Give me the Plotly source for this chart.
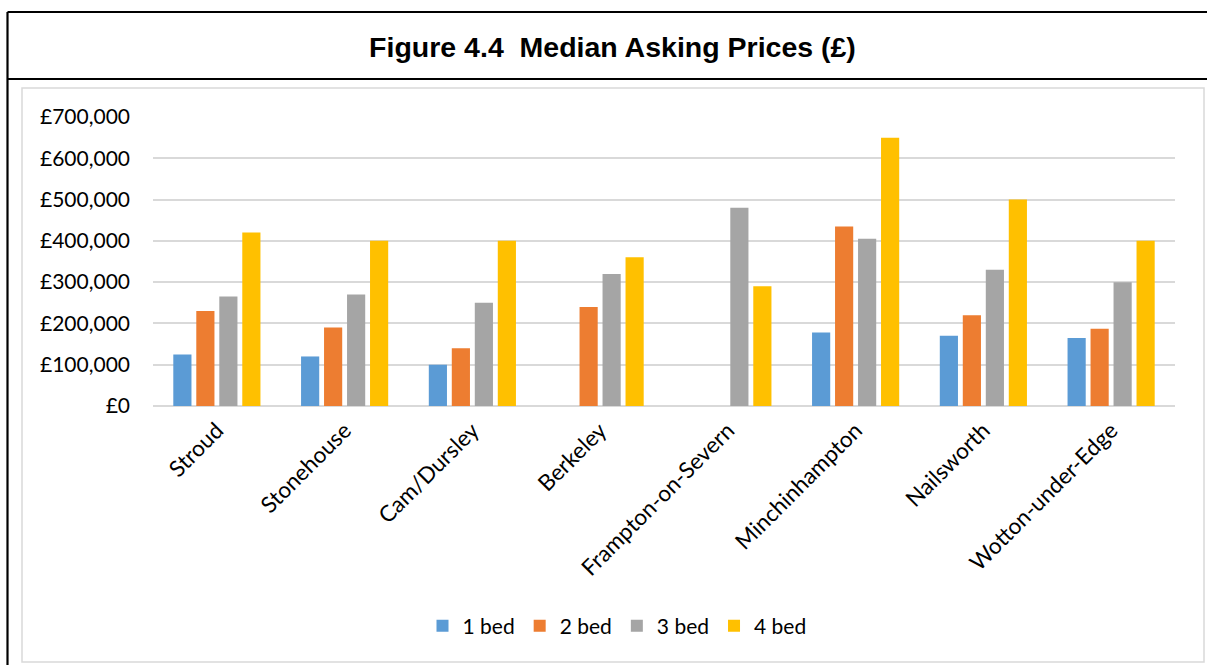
import plotly.graph_objects as go

# Median asking prices by settlement and bedroom count
towns = ["Stroud", "Stonehouse", "Cam/Dursley", "Berkeley",
         "Frampton-on-Severn", "Minchinhampton", "Nailsworth", "Wotton-under-Edge"]
bed_1 = [125000, 120000, 100000, None, None, 178000, 170000, 165000]
bed_2 = [230000, 190000, 140000, 240000, None, 435000, 220000, 187000]
bed_3 = [265000, 270000, 250000, 320000, 480000, 405000, 330000, 300000]
bed_4 = [420000, 400000, 400000, 360000, 290000, 650000, 500000, 400000]

series_names = ["1 bed", "2 bed", "3 bed", "4 bed"]
series_colors = ["#5b9bd5", "#ed7d31", "#a5a5a5", "#ffc000"]
y_ticks = [0, 100000, 200000, 300000, 400000, 500000, 600000, 700000]
y_tick_text = ["£" + f"{v:,}" for v in y_ticks]

W, H = 1207, 665
L, R, T, B = 153, 1175, 117, 406  # plot area in pixels

fig = go.Figure()
for name, vals, col in zip(series_names, [bed_1, bed_2, bed_3, bed_4], series_colors):
    fig.add_trace(go.Bar(x=towns, y=vals, name=name, marker_color=col,
                         marker_line_width=0))


def px(x):
    return (x - L) / (R - L)


def py(y):
    return (B - y) / (B - T)


shapes = [
    # outer frame (left + top) and title divider
    dict(type="line", xref="paper", yref="paper", x0=px(7.5), x1=px(1210),
         y0=py(12), y1=py(12), line=dict(color="black", width=2.2)),
    dict(type="line", xref="paper", yref="paper", x0=px(7.5), x1=px(7.5),
         y0=py(12), y1=py(670), line=dict(color="black", width=2.2)),
    dict(type="line", xref="paper", yref="paper", x0=px(7.5), x1=px(1210),
         y0=py(79), y1=py(79), line=dict(color="black", width=2.2)),
    # chart area border
    dict(type="rect", xref="paper", yref="paper", x0=px(22), x1=px(1204),
         y0=py(88), y1=py(662), line=dict(color="#d9d9d9", width=1.5),
         layer="below"),
]

fig.update_layout(
    width=W, height=H,
    margin=dict(l=L, r=W - R, t=T, b=H - B, autoexpand=False),
    paper_bgcolor="white", plot_bgcolor="white",
    barmode="group", bargap=0.28, bargroupgap=0.21,
    font=dict(family="Lato, Carlito, sans-serif", size=21, color="black"),
    title=dict(text="<b>Figure 4.4  Median Asking Prices (£)</b>",
               font=dict(family="Liberation Sans, Arial, sans-serif", size=28.5,
                         color="black"),
               x=612.5 / W, xref="container", xanchor="center",
               y=1 - 47.5 / H, yref="container", yanchor="middle"),
    showlegend=True,
    legend=dict(orientation="h", x=px(617), xanchor="center",
                y=py(626), yanchor="middle", font=dict(size=21),
                itemwidth=30, bgcolor="rgba(0,0,0,0)", traceorder="normal"),
    shapes=shapes,
)

fig.update_yaxes(range=[0, 700000], tickvals=y_ticks, ticktext=y_tick_text,
                 showgrid=True, gridcolor="#d9d9d9",
                 gridwidth=1.5, zeroline=True, zerolinecolor="#d9d9d9",
                 zerolinewidth=1.5, showline=False, ticks="",
                 ticklabelstandoff=22, fixedrange=True)
fig.update_xaxes(tickangle=-45, showline=False, ticks="", showgrid=False,
                 tickfont=dict(size=22.5),
                 ticklabelstandoff=6, fixedrange=True)

fig.write_html("out.html")
